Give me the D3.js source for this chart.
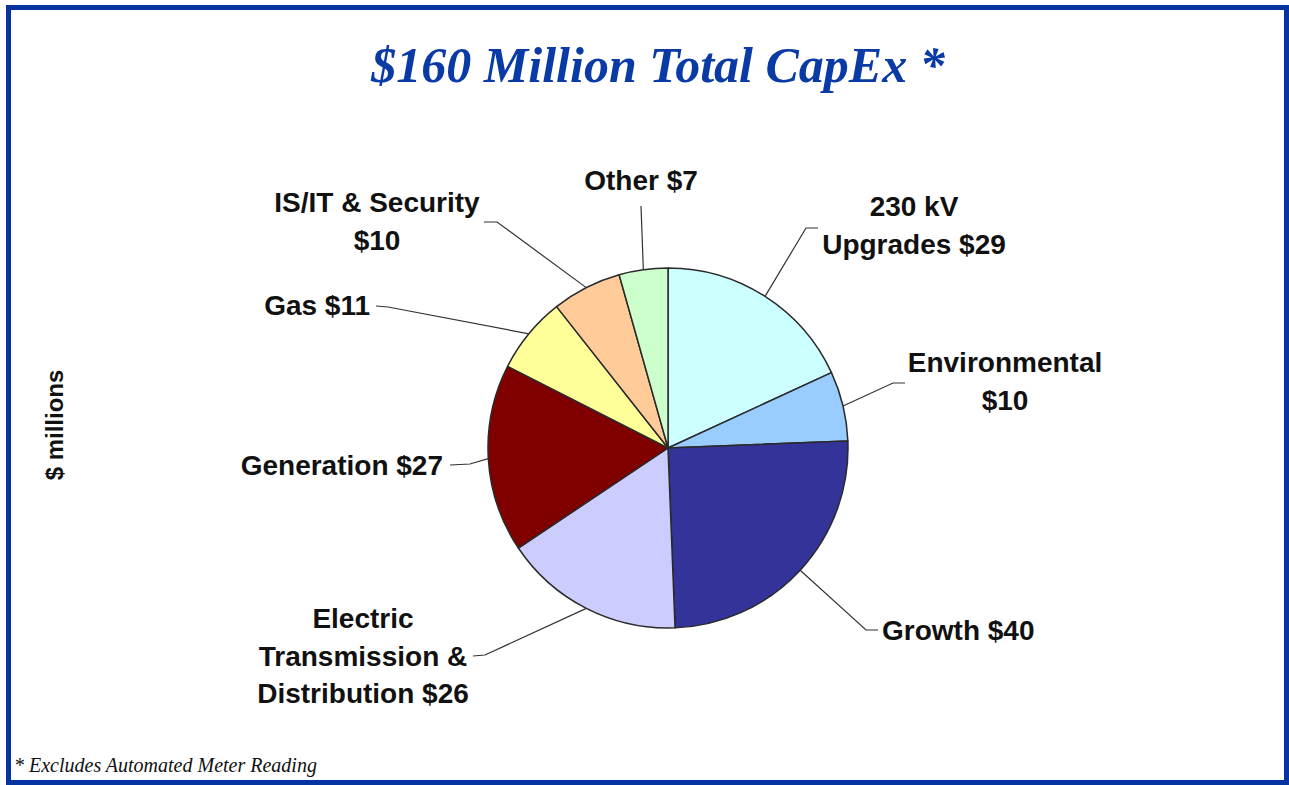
<!DOCTYPE html>
<html>
<head>
<meta charset="utf-8">
<script src="https://cdn.jsdelivr.net/npm/d3@7/dist/d3.min.js"></script>
<style>
  body{margin:0;background:#fff;}
  svg text{font-family:"Liberation Sans",Arial,sans-serif;}
</style>
</head>
<body>
<div id="chart"></div>
<script>
// data
var categories = ["230 kV Upgrades","Environmental","Growth","Electric Transmission & Distribution","Generation","Gas","IS/IT & Security","Other"];
var values = [29,10,40,26,27,11,10,7];
var labelLines = [["230 kV","Upgrades $29"],["Environmental","$10"],["Growth $40"],["Electric","Transmission &","Distribution $26"],["Generation $27"],["Gas $11"],["IS/IT & Security","$10"],["Other $7"]];
var colors = ["#ccffff","#99ccff","#333399","#ccccff","#800000","#ffff99","#ffcc99","#ccffcc"];

// label placement: text anchor point, alignment, leader elbow + end
var labelPos = [
  {x:914,y:216,anchor:"middle",elbow:[806,228],end:[818,228]},
  {x:1005,y:372,anchor:"middle",elbow:[893,383],end:[905,383]},
  {x:882,y:640,anchor:"start",elbow:[866,630],end:[878,630]},
  {x:363,y:628,anchor:"middle",elbow:[485,655],end:[473,656]},
  {x:443,y:475,anchor:"end",elbow:[470,464],end:[450,465]},
  {x:370,y:315,anchor:"end",elbow:[388,307],end:[376,306]},
  {x:377,y:212,anchor:"middle",elbow:[497,222],end:[484,222]},
  {x:641,y:190,anchor:"middle",elbow:[641,206],end:[641,206]}
];

var width = 1289, height = 785;
var cx = 668, cy = 448, radius = 180;

var svg = d3.select("#chart")
    .append("svg")
    .attr("width",width)
    .attr("height",height);

svg.append("rect")
    .attr("x",8.5).attr("y",7.5)
    .attr("width",1278).attr("height",775)
    .attr("fill","#fff")
    .attr("stroke","#0534a0")
    .attr("stroke-width",5);

svg.append("text")
    .attr("x",658).attr("y",82)
    .attr("text-anchor","middle")
    .attr("fill","#0a3aa6")
    .attr("font-size",50)
    .attr("font-weight","bold")
    .attr("font-style","italic")
    .style("font-family","'Liberation Serif','Times New Roman',serif")
    .text("$160 Million Total CapEx *");

svg.append("text")
    .attr("transform","translate(63,425) rotate(-90)")
    .attr("text-anchor","middle")
    .attr("font-size",24)
    .attr("font-weight","bold")
    .attr("fill","#111")
    .text("$ millions");

svg.append("text")
    .attr("x",14).attr("y",772)
    .attr("font-size",20)
    .attr("font-style","italic")
    .attr("fill","#111")
    .style("font-family","'Liberation Serif','Times New Roman',serif")
    .text("* Excludes Automated Meter Reading");

var pie = d3.pie().sort(null).value(function(d){return d;});
var arcs = pie(values);
var arc = d3.arc().innerRadius(0).outerRadius(radius);

var g = svg.append("g").attr("transform","translate("+cx+","+cy+")");

g.selectAll("path.slice")
    .data(arcs)
    .enter()
    .append("path")
    .attr("class","slice")
    .attr("d",arc)
    .attr("fill",function(d,i){return colors[i];})
    .attr("stroke","#2a2a2a")
    .attr("stroke-width",1.5)
    .attr("stroke-linejoin","round");

// leader lines from arc midpoints
svg.selectAll("polyline.leader")
    .data(arcs)
    .enter()
    .append("polyline")
    .attr("class","leader")
    .attr("fill","none")
    .attr("stroke","#333")
    .attr("stroke-width",1.2)
    .attr("points",function(d,i){
        var a = (d.startAngle+d.endAngle)/2;
        var px = cx + radius*Math.sin(a), py = cy - radius*Math.cos(a);
        var p = labelPos[i];
        return [[px,py],p.elbow,p.end].map(function(q){return q.join(",");}).join(" ");
    });

var labels = svg.selectAll("text.lbl")
    .data(labelLines)
    .enter()
    .append("text")
    .attr("class","lbl")
    .attr("font-size",28)
    .attr("font-weight","bold")
    .attr("fill","#111")
    .attr("text-anchor",function(d,i){return labelPos[i].anchor;});

labels.selectAll("tspan")
    .data(function(d,i){return d.map(function(t){return {t:t,i:i};});})
    .enter()
    .append("tspan")
    .attr("x",function(d){return labelPos[d.i].x;})
    .attr("y",function(d,j){return labelPos[d.i].y + j*37.5;})
    .text(function(d){return d.t;});
</script>
</body>
</html>
